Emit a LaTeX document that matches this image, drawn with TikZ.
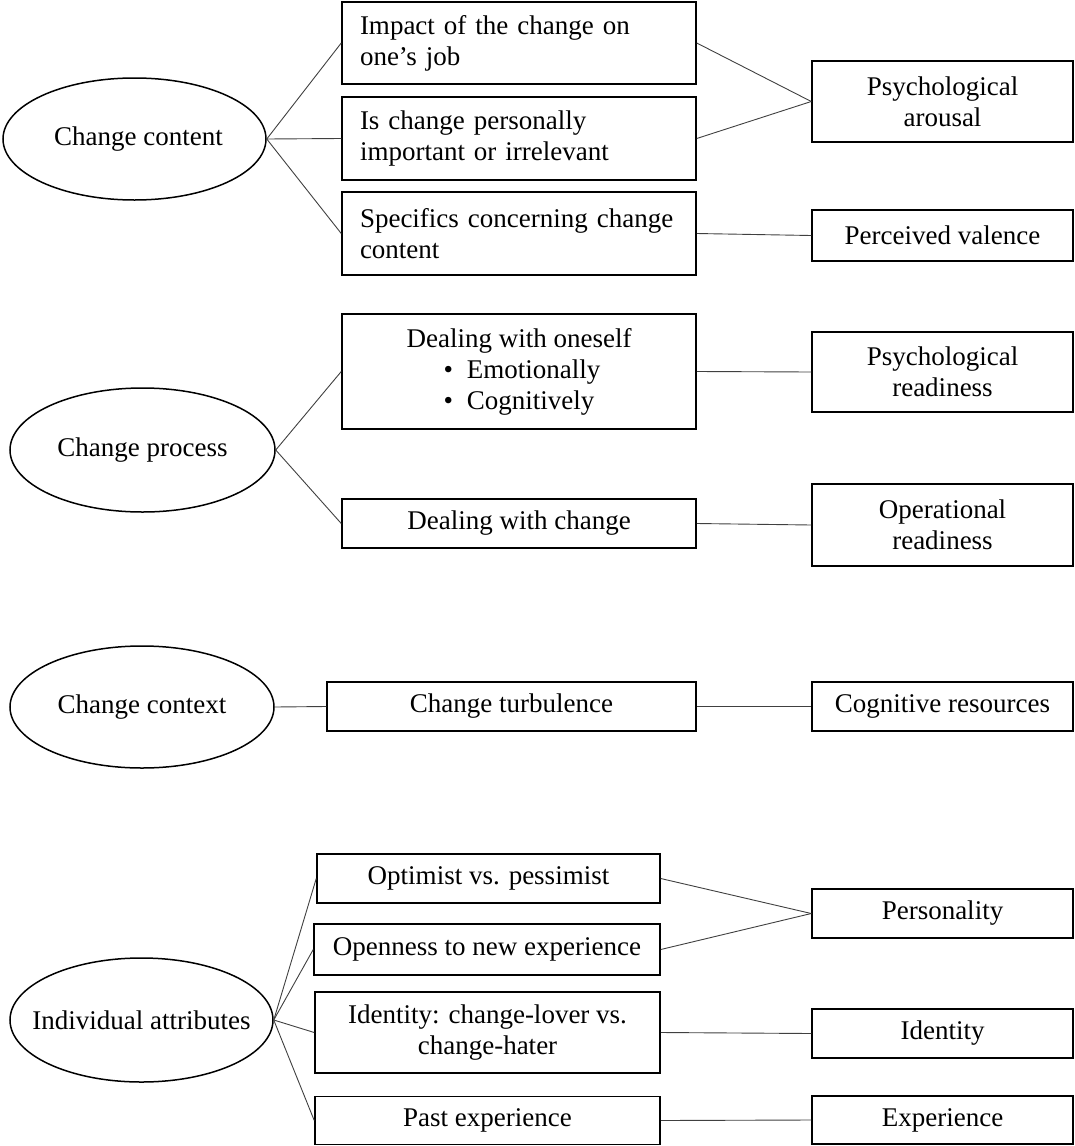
\documentclass[tikz,border=0pt]{standalone}
\usepackage{fontspec}
\setmainfont{Liberation Serif}
\usetikzlibrary{shapes.geometric}
\begin{document}
\begin{tikzpicture}[x=1pt,y=-1pt,
  every node/.style={font=\fontsize{27}{31}\selectfont},
  oval/.style={draw,ellipse,line width=1.5pt,inner sep=0pt},
  ovaltext/.style={inner sep=0pt},
  factor/.style={draw,rectangle,line width=1.5pt,inner sep=0pt,align=center},
  leftbox/.style={draw,rectangle,line width=1.5pt,inner xsep=18pt,inner ysep=0pt,align=left},
  conn/.style={line width=0.9pt,black!75}]
\useasboundingbox (0,0) rectangle (1074,1146);

% ---- change content ----
\node[oval,minimum width=263pt,minimum height=122pt] (cc) at (134.5,139) {};
\node[ovaltext] (cct) at ([xshift=4pt]cc.center) {Change content};
\node[leftbox,text width=318pt,minimum height=82pt] (a1) at (519,43) {Impact of the change on\\one’s job};
\node[leftbox,text width=318pt,minimum height=83pt] (a2) at (519,138.5) {Is change personally\\important or irrelevant};
\node[leftbox,text width=318pt,minimum height=83pt] (a3) at (519,233.5) {Specifics concerning change\\content};
\node[factor,minimum width=261pt,minimum height=81pt] (pa) at (942.5,101.5) {Psychological\\arousal};
\node[factor,minimum width=261pt,minimum height=51pt] (pv) at (942.5,235.5) {Perceived valence};

% ---- change process ----
\node[oval,minimum width=265pt,minimum height=124pt] (cp) at (142.5,450) {};
\node[ovaltext] (cpt) at (cp.center) {Change process};
\node[factor,minimum width=354pt,minimum height=115pt] (b1) at (519,371.5)
  {Dealing with oneself\\\hspace*{6pt}•\hspace{14pt}Emotionally\\•\hspace{14pt}Cognitively};
\node[factor,minimum width=354pt,minimum height=49pt] (b2) at (519,523.5) {Dealing with change};
\node[factor,minimum width=261pt,minimum height=80pt] (pr) at (942.5,372) {Psychological\\readiness};
\node[factor,minimum width=261pt,minimum height=82pt] (ore) at (942.5,525) {Operational\\readiness};

% ---- change context ----
\node[oval,minimum width=264pt,minimum height=122pt] (cx) at (142,707) {};
\node[ovaltext] (cxt) at (cx.center) {Change context};
\node[factor,minimum width=369pt,minimum height=49pt] (ct) at (511.5,706.5) {Change turbulence};
\node[factor,minimum width=261pt,minimum height=49pt] (cr) at (942.5,706.5) {Cognitive resources};

% ---- individual attributes ----
\node[oval,minimum width=263pt,minimum height=124pt] (ia) at (141.5,1020) {};
\node[ovaltext] (iat) at (ia.center) {Individual attributes};
\node[factor,minimum width=343pt,minimum height=49pt] (d1) at (488.5,878.5) {Optimist vs. pessimist};
\node[factor,minimum width=346pt,minimum height=51pt] (d2) at (487,949.5) {Openness to new experience};
\node[factor,minimum width=345pt,minimum height=81pt] (d3) at (487.5,1032.5) {Identity: change-lover vs.\\change-hater};
\node[factor,minimum width=345pt,minimum height=48pt] (d4) at (487.5,1120.5) {Past experience};
\node[factor,minimum width=261pt,minimum height=49pt] (pe) at (942.5,913.5) {Personality};
\node[factor,minimum width=261pt,minimum height=49pt] (id) at (942.5,1033.5) {Identity};
\node[factor,minimum width=261pt,minimum height=48pt] (ex) at (942.5,1120) {Experience};

% ---- connectors ----
\draw[conn] (cc.east) -- (a1.west);
\draw[conn] (cc.east) -- (a2.west);
\draw[conn] (cc.east) -- (a3.west);
\draw[conn] (a1.east) -- (pa.west);
\draw[conn] (a2.east) -- (pa.west);
\draw[conn] (a3.east) -- (pv.west);

\draw[conn] (cp.east) -- (b1.west);
\draw[conn] (cp.east) -- (b2.west);
\draw[conn] (b1.east) -- (pr.west);
\draw[conn] (b2.east) -- (ore.west);

\draw[conn] (cx.east) -- (ct.west);
\draw[conn] (ct.east) -- (cr.west);

\draw[conn] (ia.east) -- (d1.west);
\draw[conn] (ia.east) -- (d2.west);
\draw[conn] (ia.east) -- (d3.west);
\draw[conn] (ia.east) -- (d4.west);
\draw[conn] (d1.east) -- (pe.west);
\draw[conn] (d2.east) -- (pe.west);
\draw[conn] (d3.east) -- (id.west);
\draw[conn] (d4.east) -- (ex.west);
\end{tikzpicture}
\end{document}
